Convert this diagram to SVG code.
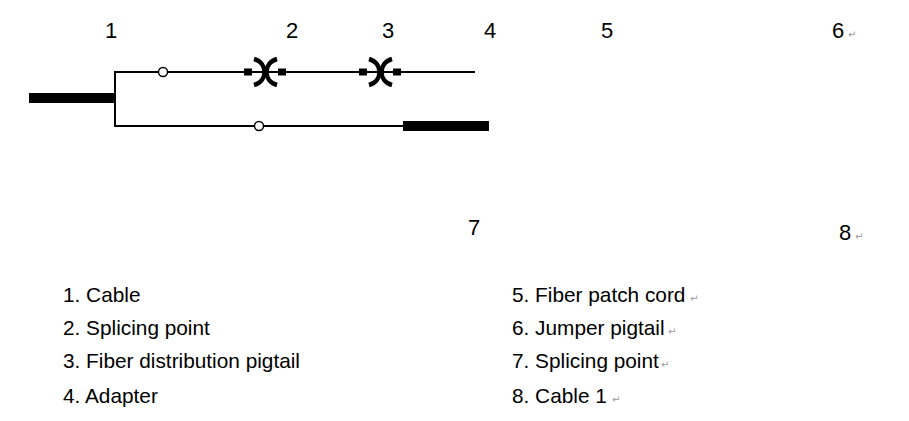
<svg xmlns="http://www.w3.org/2000/svg" width="909" height="421" viewBox="0 0 909 421">
<style>
.num{font-family:"Liberation Sans",Arial,sans-serif;font-size:22px;fill:#000;text-anchor:middle}
.lst{font-family:"Liberation Sans",Arial,sans-serif;font-size:20.8px;fill:#000}
.ret{font-family:"DejaVu Sans",sans-serif;font-size:10px;fill:#999}
.ln{stroke:#000;stroke-width:2;fill:none}
.arc{stroke:#000;stroke-width:4.5;fill:none}
.sp{fill:#fff;stroke:#000;stroke-width:1.5}
</style>
<defs>
<g id="adapter">
<rect x="-22" y="-3.5" width="8" height="7" fill="#000"/>
<rect x="12" y="-3.5" width="8" height="7" fill="#000"/>
<path class="arc" d="M-12,-13 C2,-9 2,9 -12,13"/>
<path class="arc" d="M11,-13 C-3,-9 -3,9 11,13"/>
</g>
</defs>
<g id="connectors">
<line class="ln" x1="115" y1="71" x2="115" y2="127"/>
<line class="ln" x1="114" y1="72" x2="475" y2="72"/>
<line class="ln" x1="114" y1="126" x2="404" y2="126"/>
</g>
<g id="cable"><rect x="29" y="93" width="86" height="10" fill="#000"/></g>
<g id="cable1"><rect x="403" y="121" width="86" height="10" fill="#000"/></g>
<g id="splice-top"><circle class="sp" cx="163" cy="72" r="4.5"/></g>
<g id="splice-bottom"><circle class="sp" cx="259" cy="126" r="4.5"/></g>
<g id="adapter1"><use href="#adapter" x="266" y="72"/></g>
<g id="adapter2"><use href="#adapter" x="381" y="72"/></g>
<g id="labels">
<text class="num" x="111" y="38">1</text>
<text class="num" x="292" y="38">2</text>
<text class="num" x="388" y="38">3</text>
<text class="num" x="490" y="38">4</text>
<text class="num" x="607" y="38">5</text>
<text class="num" x="838" y="38">6</text><text class="ret" x="848" y="38">↵</text>
<text class="num" x="474" y="235">7</text>
<text class="num" x="845" y="240">8</text><text class="ret" x="855" y="240">↵</text>
</g>
<g id="legend">
<text class="lst" x="63" y="302">1. Cable</text>
<text class="lst" x="63" y="335">2. Splicing point</text>
<text class="lst" x="63" y="368">3. Fiber distribution pigtail</text>
<text class="lst" x="63" y="403">4. Adapter</text>
<text class="lst" x="512" y="302">5. Fiber patch cord</text><text class="ret" x="690" y="302">↵</text>
<text class="lst" x="512" y="335">6. Jumper pigtail</text><text class="ret" x="668" y="335">↵</text>
<text class="lst" x="512" y="368">7. Splicing point</text><text class="ret" x="661" y="368">↵</text>
<text class="lst" x="512" y="403">8. Cable 1</text><text class="ret" x="612" y="403">↵</text>
</g>
</svg>
